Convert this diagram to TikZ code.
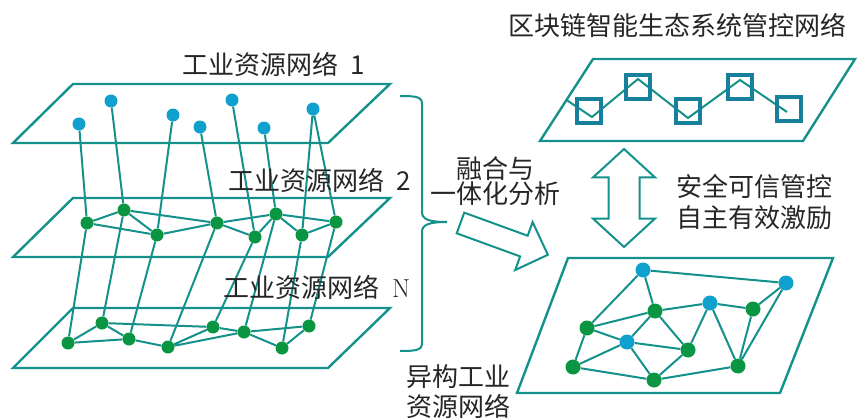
\documentclass[tikz,border=0pt]{standalone}
\usepackage{fontspec}
\usepackage{xcolor}
\usepackage{tikz}
\usetikzlibrary{shapes.arrows, positioning, calc, backgrounds}
\newfontfamily\cjk{Noto Sans CJK SC}
\definecolor{netline}{HTML}{14918A}
\definecolor{dotblue}{HTML}{10A0CE}
\definecolor{dotgreen}{HTML}{0A9542}
\definecolor{blockc}{HTML}{17819D}
\definecolor{txt}{HTML}{262626}

\begin{document}
\begin{tikzpicture}[x=1pt, y=-1pt,
    plane/.style={draw=netline, line width=2.4pt},
    link/.style={draw=netline, line width=2pt},
    bdot/.style={circle, fill=dotblue, minimum size=13pt, inner sep=0pt},
    gdot/.style={circle, fill=dotgreen, minimum size=13pt, inner sep=0pt},
    blk/.style={draw=blockc, line width=4.5pt, minimum size=24pt, inner sep=0pt},
    lbl/.style={font=\cjk\fontsize{26}{31}\selectfont, text=txt, inner sep=0pt, align=center},
    fat/.style={draw=netline, line width=2pt, fill=white, inner sep=0pt}
]
    \useasboundingbox (0,0) rectangle (862,420);

    % layer 1
    \node[bdot] (a1) at (79,124) {};
    \node[bdot] (a2) at (111,101) {};
    \node[bdot] (a3) at (173,115) {};
    \node[bdot] (a4) at (200,127) {};
    \node[bdot] (a5) at (232,100) {};
    \node[bdot] (a6) at (264,128) {};
    \node[bdot] (a7) at (313,109) {};
    % layer 2
    \node[gdot] (b1) at (87,223) {};
    \node[gdot] (b2) at (124,210) {};
    \node[gdot] (b3) at (157,235) {};
    \node[gdot] (b4) at (217,223) {};
    \node[gdot] (b5) at (255,237) {};
    \node[gdot] (b6) at (276,214) {};
    \node[gdot] (b7) at (302,235) {};
    \node[gdot] (b8) at (336,222) {};
    % layer N
    \node[gdot] (c1) at (68,343) {};
    \node[gdot] (c2) at (102,323) {};
    \node[gdot] (c3) at (129,339) {};
    \node[gdot] (c4) at (168,347) {};
    \node[gdot] (c5) at (213,327) {};
    \node[gdot] (c6) at (244,332) {};
    \node[gdot] (c7) at (282,348) {};
    \node[gdot] (c8) at (309,326) {};

    % heterogeneous network
    \node[bdot, minimum size=15pt] (r1) at (643,270) {};
    \node[bdot, minimum size=15pt] (r2) at (786,283) {};
    \node[gdot, minimum size=15pt] (r3) at (655,311) {};
    \node[bdot, minimum size=15pt] (r4) at (710,303) {};
    \node[gdot, minimum size=15pt] (r5) at (753,309) {};
    \node[gdot, minimum size=15pt] (r6) at (587,328) {};
    \node[bdot, minimum size=15pt] (r7) at (627,342) {};
    \node[gdot, minimum size=15pt] (r8) at (688,350) {};
    \node[gdot, minimum size=15pt] (r9) at (573,367) {};
    \node[gdot, minimum size=15pt] (r10) at (654,380) {};
    \node[gdot, minimum size=15pt] (r11) at (738,366) {};

    % blockchain
    \coordinate (t1) at (540,141);
    \coordinate (t2) at (803,141);
    \coordinate (t3) at (855,59);
    \coordinate (t4) at (593,59);
    \node[blk] (s1) at (589,111) {};
    \node[blk] (s2) at (638,87) {};
    \node[blk] (s3) at (688,111) {};
    \node[blk] (s4) at (740,87) {};
    \node[blk] (s5) at (789,109) {};

    \begin{scope}[on background layer]
        \draw[plane] (13,143) -- (328,143) -- (390,84) -- (73,84) -- cycle;
        \draw[plane] (13,257) -- (328,257) -- (390,198) -- (73,198) -- cycle;
        \draw[plane] (13,368) -- (328,368) -- (390,308) -- (73,308) -- cycle;
        \draw[plane] (517,393) -- (780,393) -- (833,258) -- (568,258) -- cycle;
        \draw[plane] (t1) -- (t2) -- (t3) -- (t4) -- cycle;

        \draw[link] (a1) -- (b1) (a2) -- (b2) (a3) -- (b3) (a4) -- (b4)
            (a5) -- (b5) (a6) -- (b6) (a7) -- (b7) (a7) -- (b8);
        \draw[link] (b1) -- (c1) (b2) -- (c2) (b3) -- (c3) (b4) -- (c4)
            (b5) -- (c5) (b6) -- (c6) (b7) -- (c7) (b8) -- (c8);
        \draw[link] (b1) -- (b2) -- (b3) -- (b1) (b2) -- (b4) (b3) -- (b4)
            (b4) -- (b5) -- (b6) -- (b4) (b6) -- (b7) -- (b8) -- (b6);
        \draw[link] (c1) -- (c2) -- (c3) -- (c1) (c2) -- (c5) (c3) -- (c4)
            (c4) -- (c5) -- (c6) -- (c4) (c6) -- (c7) -- (c8) -- (c6);

        \draw[link] (r1) -- (r2) (r1) -- (r6) (r1) -- (r3) (r6) -- (r3)
            (r3) -- (r4) -- (r5) -- (r2) (r6) -- (r7) (r6) -- (r9)
            (r3) -- (r7) (r3) -- (r8) (r7) -- (r8) (r7) -- (r9) (r7) -- (r10)
            (r9) -- (r10) (r8) -- (r10) (r8) -- (r4) (r4) -- (r11)
            (r10) -- (r11) (r11) -- (r5) (r11) -- (r2);

        \draw[link] ($(t1)!0.5!(t4)$) -- ([xshift=3pt, yshift=-6pt]s1.center)
            -- ([yshift=8pt]s2.center) -- ([yshift=-7pt]s3.center)
            -- ([yshift=7pt]s4.center) -- ([xshift=-2pt, yshift=-3pt]s5.center);
    \end{scope}

    % brace
    \draw[plane, line width=2pt] (400,96) .. controls (417,96) and (422,97) .. (422,104)
        -- (422,212) .. controls (422,219) and (428,222) .. (447,222)
        .. controls (428,222) and (422,225) .. (422,232)
        -- (422,343) .. controls (422,350) and (417,351) .. (400,351);

    \node[fat, single arrow, minimum height=93pt, inner ysep=10pt,
        single arrow head extend=14.5pt, rotate=-20] (fuse) at (499,237) {};
    \node[fat, double arrow, minimum height=98pt, inner ysep=14.5pt,
        double arrow head extend=15.5pt, double arrow tip angle=95, rotate=90] (ctrl) at (624,198) {};

    \node[lbl, anchor=west] (l1) at (182,64) {工业资源网络\hspace{12pt}1};
    \node[lbl, anchor=west] (l2) at (228,180) {工业资源网络\hspace{12pt}2};
    \node[lbl, anchor=west] (ln) at (223,287) {工业资源网络\hspace{13pt}{\rmfamily N}};
    \node[lbl] (title) at (677,25) {区块链智能生态系统管控网络};
    \node[lbl, font=\cjk\fontsize{26}{25}\selectfont] (fuselbl) at (495,181) {融合与\\一体化分析};
    \node[lbl] (ctrllbl) at (754,202) {安全可信管控\\自主有效激励};
    \node[lbl, font=\cjk\fontsize{26}{30}\selectfont] (hetlbl) at (458,392) {异构工业\\资源网络};
\end{tikzpicture}
\end{document}
